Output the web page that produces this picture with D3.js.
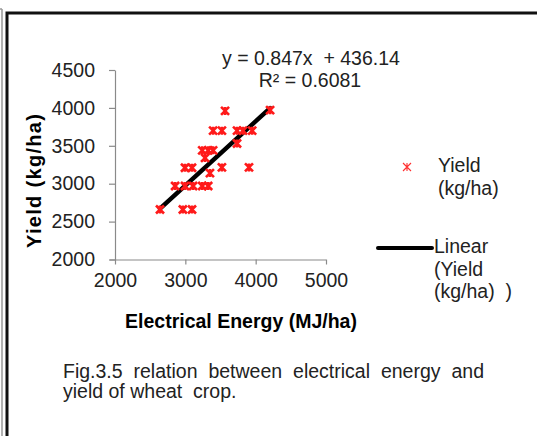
<!DOCTYPE html>
<html>
<head>
<meta charset="utf-8">
<script src="https://cdn.jsdelivr.net/npm/d3@7"></script>
<style>
  body { margin: 0; background: #fff; }
  text { font-family: "Liberation Sans", Arial, sans-serif; fill: #222; }
</style>
</head>
<body>
<script>
// Electrical energy (MJ/ha) vs yield (kg/ha)
var energy = [2640, 2965, 3095, 2855, 2995, 3110, 3240, 3325, 3350, 2995, 3095, 3520, 3905,
              3280, 3240, 3325, 3395, 3395, 3520, 3735, 3820, 3950, 3735, 3565, 4205]
var yieldKg = [2660, 2660, 2660, 2970, 2970, 2970, 2970, 2970, 3140, 3210, 3210, 3215, 3215,
               3340, 3440, 3440, 3440, 3700, 3700, 3700, 3700, 3700, 3530, 3960, 3970]
var xTicks = [2000, 3000, 4000, 5000]
var yTicks = [2000, 2500, 3000, 3500, 4000, 4500]
// trendline as printed on the chart
var slope = 0.847, intercept = 436.14
var eqLines = ["y = 0.847x  + 436.14", "R\u00b2 = 0.6081"]
var legendLabels = [["Yield", "(kg/ha)"], ["Linear", "(Yield", "(kg/ha)  )"]]
var caption = ["Fig.3.5 relation between electrical energy and", "yield of wheat  crop."]

var W = 537, H = 436
var FS = "19.5px"
var svg = d3.select("body").append("svg").attr("width", W).attr("height", H)

// page frame
svg.append("line").attr("x1", 2).attr("x2", 2).attr("y1", 9).attr("y2", H)
  .attr("stroke", "#999").attr("stroke-width", 1.5)
svg.append("line").attr("x1", 0).attr("x2", 2).attr("y1", 9).attr("y2", 9)
  .attr("stroke", "#999").attr("stroke-width", 1.5)
svg.append("path").attr("d", "M7," + H + "V13H" + W)
  .attr("fill", "none").attr("stroke", "#111").attr("stroke-width", 3)

var x = d3.scaleLinear().domain([2000, 5000]).range([115, 326])
var y = d3.scaleLinear().domain([2000, 4500]).range([259.5, 70])

var xAxis = d3.axisBottom(x).tickValues(xTicks).tickFormat(d3.format("d"))
  .tickSize(5).tickSizeOuter(0).tickPadding(9)
var yAxis = d3.axisLeft(y).tickValues(yTicks).tickFormat(d3.format("d"))
  .tickSize(6).tickSizeOuter(0).tickPadding(14)

var gx = svg.append("g").attr("transform", "translate(0," + y(2000) + ")").call(xAxis)
var gy = svg.append("g").attr("transform", "translate(" + x(2000) + ",0)").call(yAxis)
;[gx, gy].forEach(function(g) {
  g.selectAll("path, line").attr("stroke", "#8a8a8a").attr("stroke-width", 1.2)
  g.selectAll("text").style("font-size", FS).style("fill", "#222")
    .style("font-family", "'Liberation Sans', Arial, sans-serif")
})
gx.select(".domain").attr("d", "M110,0.5H" + x(5000))

// trendline over the data range
var xr = d3.extent(energy)
svg.append("line")
  .attr("x1", x(xr[0])).attr("y1", y(slope * xr[0] + intercept))
  .attr("x2", x(xr[1])).attr("y2", y(slope * xr[1] + intercept))
  .attr("stroke", "#000").attr("stroke-width", 4.5).attr("stroke-linecap", "round")

// star markers
function star(r) {
  return "M" + (-r) + "," + (-r) + "L" + r + "," + r +
    "M" + r + "," + (-r) + "L" + (-r) + "," + r +
    "M0," + (-r) + "V" + r
}
svg.selectAll(".pt").data(energy).enter().append("path")
  .attr("class", "pt")
  .attr("transform", function(d, i) { return "translate(" + x(d) + "," + y(yieldKg[i]) + ")" })
  .attr("d", star(4))
  .attr("fill", "none").attr("stroke", "#ff1a1a").attr("stroke-width", 2.6)

// equation
svg.append("text").attr("x", 311).attr("y", 65).attr("text-anchor", "middle")
  .style("font-size", FS).style("white-space", "pre").text(eqLines[0])
svg.append("text").attr("x", 310).attr("y", 87).attr("text-anchor", "middle")
  .style("font-size", FS).text(eqLines[1])

// axis titles
svg.append("text").attr("x", 241).attr("y", 328).attr("text-anchor", "middle")
  .style("font-size", FS).style("font-weight", "bold").style("fill", "#000")
  .text("Electrical Energy (MJ/ha)")
svg.append("text").attr("transform", "translate(41,181) rotate(-90)").attr("text-anchor", "middle")
  .style("font-size", "20px").style("font-weight", "bold").style("fill", "#000")
  .attr("textLength", 134).attr("lengthAdjust", "spacing")
  .text("Yield (kg/ha)")

// legend
svg.append("path").attr("transform", "translate(407,167)").attr("d", star(4))
  .attr("fill", "none").attr("stroke", "#ff3030").attr("stroke-width", 1.1)
legendLabels[0].forEach(function(t, i) {
  svg.append("text").attr("x", 438).attr("y", 172 + i * 23).style("font-size", FS).text(t)
})
svg.append("line").attr("x1", 378).attr("x2", 432).attr("y1", 248).attr("y2", 248)
  .attr("stroke", "#000").attr("stroke-width", 4).attr("stroke-linecap", "round")
legendLabels[1].forEach(function(t, i) {
  svg.append("text").attr("x", 434).attr("y", 253 + i * 22.5).style("font-size", FS)
    .style("white-space", "pre").text(t)
})

// caption, first line justified
function justify(str, x0, x1, yy) {
  var words = str.split(" ")
  var nodes = words.map(function(w) {
    return svg.append("text").attr("y", yy).style("font-size", "19.5px").text(w)
  })
  var widths = nodes.map(function(n) { return n.node().getComputedTextLength() })
  var gap = (x1 - x0 - d3.sum(widths)) / (words.length - 1)
  var cx = x0
  nodes.forEach(function(n, i) { n.attr("x", cx); cx += widths[i] + gap })
}
justify(caption[0], 63, 484, 378)
svg.append("text").attr("x", 63).attr("y", 398).style("font-size", "19.5px")
  .style("white-space", "pre").text(caption[1])
</script>
</body>
</html>
